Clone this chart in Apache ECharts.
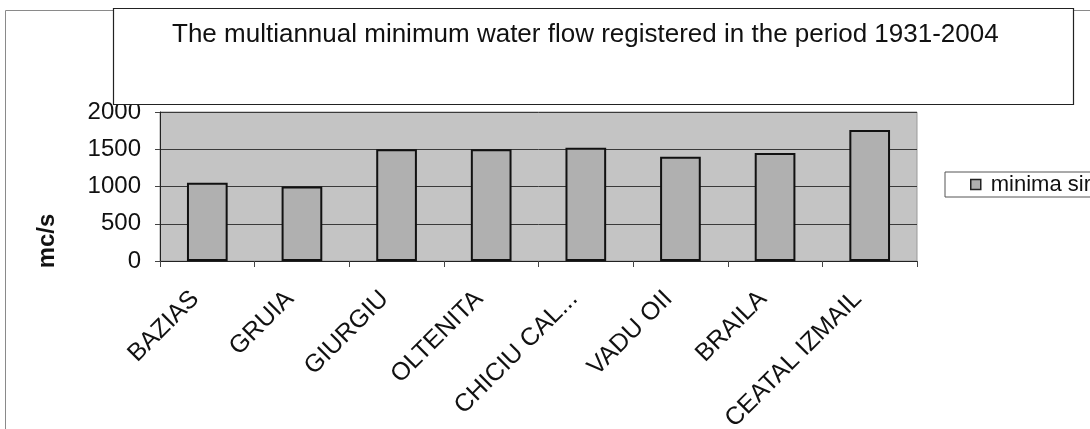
<!DOCTYPE html>
<html>
<head>
<meta charset="utf-8">
<style>
  html, body { margin: 0; padding: 0; background: #fff; }
  #chart { width: 1090px; height: 429px; }
</style>
<script src="https://cdn.jsdelivr.net/npm/echarts@6/dist/echarts.min.js"></script>
</head>
<body>
<div id="chart"></div>
<script>
// Danube gauging stations and their multiannual minimum flow (m³/s)
const stations = ['BAZIAS', 'GRUIA', 'GIURGIU', 'OLTENITA', 'CHICIU CAL...', 'VADU OII', 'BRAILA', 'CEATAL IZMAIL'];
const minFlow = [1050, 1000, 1500, 1500, 1520, 1400, 1450, 1760];
const yTicks = [0, 500, 1000, 1500, 2000];
const seriesName = 'minima sirului';
const chartTitle = 'The multiannual minimum water flow registered in the period 1931-2004';
const unitLabel = 'mc/s';

const FONT = '"Liberation Sans", Arial, sans-serif';

const chart = echarts.init(document.getElementById('chart'), null, { renderer: 'canvas' });

chart.setOption({
  backgroundColor: '#ffffff',
  animation: false,
  grid: {
    left: 160, right: 173, top: 112, bottom: 168,
    containLabel: false,
    outerBoundsMode: 'none',
    show: true,
    backgroundColor: '#c4c4c4',
    borderColor: '#9a9a9a',
    borderWidth: 1
  },
  legend: {
    data: [{ name: seriesName, icon: 'rect' }],
    left: 945, top: 172,
    orient: 'vertical',
    backgroundColor: '#ffffff',
    borderColor: '#555',
    borderWidth: 1,
    padding: [1, 8, 1, 25],
    itemWidth: 10, itemHeight: 10,
    itemGap: 0,
    itemStyle: { color: '#b0b0b0', borderColor: '#222', borderWidth: 1.5 },
    textStyle: { fontFamily: FONT, fontSize: 22, lineHeight: 23, color: '#111', padding: [0, 0, 0, 5] }
  },
  xAxis: {
    type: 'category',
    data: stations,
    boundaryGap: true,
    axisLine: { lineStyle: { color: '#222', width: 1 } },
    axisTick: { show: true, alignWithLabel: false, length: 6, lineStyle: { color: '#444' } },
    axisLabel: {
      interval: 0,
      rotate: 45,
      margin: 22,
      padding: [0, 17, 0, 0],
      fontFamily: FONT,
      fontSize: 25,
      color: '#111'
    },
    splitLine: { show: false }
  },
  yAxis: {
    type: 'value',
    min: yTicks[0], max: yTicks[yTicks.length - 1], interval: yTicks[1] - yTicks[0],
    axisLine: { show: true, lineStyle: { color: '#222', width: 1 } },
    axisTick: { show: true, length: 5, lineStyle: { color: '#444' } },
    axisLabel: {
      margin: 19, fontFamily: FONT, fontSize: 24, color: '#111',
      formatter: v => String(v)
    },
    splitLine: { show: true, lineStyle: { color: '#3a3a3a', width: 1 } }
  },
  series: [{
    name: seriesName,
    type: 'bar',
    data: minFlow,
    barWidth: '43%',
    itemStyle: { color: '#b0b0b0', borderColor: '#111', borderWidth: 2 }
  }],
  graphic: [
    // outer chart frame
    {
      type: 'rect', z: 50, silent: true,
      shape: { x: 5.5, y: 10.5, width: 1200, height: 600 },
      style: { fill: null, stroke: '#8a8a8a', lineWidth: 1 }
    },
    // title box
    {
      type: 'rect', z: 100, silent: true,
      shape: { x: 113.5, y: 8.5, width: 960, height: 96 },
      style: { fill: '#ffffff', stroke: '#222', lineWidth: 1.2 }
    },
    {
      type: 'text', z: 101, silent: true,
      x: 172, y: 35,
      style: {
        text: chartTitle, fontFamily: FONT, fontSize: 26, fill: '#111',
        align: 'left', verticalAlign: 'middle'
      }
    },
    // y axis unit label
    {
      type: 'text', z: 101, silent: true,
      x: 47, y: 241, rotation: Math.PI / 2,
      style: {
        text: unitLabel, fontFamily: FONT, fontSize: 24, fontWeight: 'bold',
        fill: '#111', align: 'center', verticalAlign: 'middle'
      }
    }
  ]
});
</script>
</body>
</html>
